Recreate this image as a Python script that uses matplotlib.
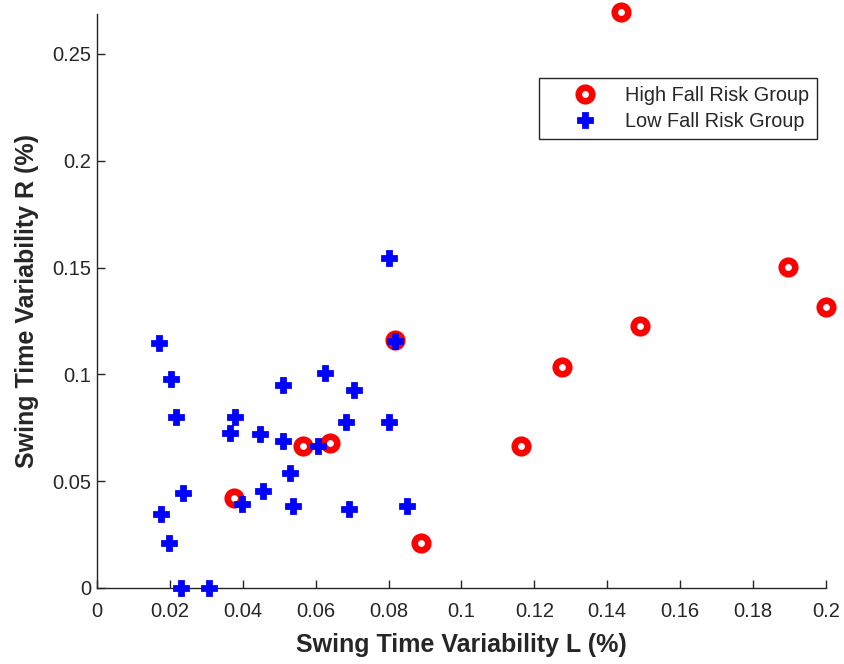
import matplotlib
matplotlib.use('Agg')
import matplotlib.pyplot as plt

# High fall risk group
high_x = [0.1438, 0.1896, 0.2000, 0.1490, 0.1276, 0.1163, 0.0818, 0.0566, 0.0639, 0.0377, 0.0889]
high_y = [0.2697, 0.1503, 0.1316, 0.1227, 0.1035, 0.0665, 0.1161, 0.0665, 0.0680, 0.0423, 0.0212]

# Low fall risk group
low_x = [0.0171, 0.0203, 0.0217, 0.0379, 0.0365, 0.0447, 0.0511, 0.0511, 0.0626, 0.0705,
         0.0682, 0.0801, 0.0818, 0.0605, 0.0530, 0.0235, 0.0456, 0.0399, 0.0539, 0.0691,
         0.0851, 0.0176, 0.0198, 0.0230, 0.0308, 0.0801]
low_y = [0.1146, 0.0978, 0.0799, 0.0799, 0.0727, 0.0721, 0.0949, 0.0690, 0.1005, 0.0927,
         0.0776, 0.0776, 0.1158, 0.0665, 0.0540, 0.0446, 0.0454, 0.0392, 0.0384, 0.0368,
         0.0384, 0.0345, 0.0212, 0.0000, 0.0000, 0.1545]

xticks = [0, 0.02, 0.04, 0.06, 0.08, 0.1, 0.12, 0.14, 0.16, 0.18, 0.2]
xtick_labels = ['0', '0.02', '0.04', '0.06', '0.08', '0.1', '0.12', '0.14', '0.16', '0.18', '0.2']
yticks = [0, 0.05, 0.1, 0.15, 0.2, 0.25]
ytick_labels = ['0', '0.05', '0.1', '0.15', '0.2', '0.25']

plt.rcParams['font.family'] = ['Liberation Sans', 'DejaVu Sans']
dark = '#262626'

fig = plt.figure(figsize=(8.45, 6.64), dpi=100)
ax = fig.add_axes([0.1148, 0.1145, 0.8627, 0.8644])

ax.plot(high_x, high_y, 'o', color='red', markerfacecolor='white',
        markeredgecolor='red', markersize=9.75, markeredgewidth=4.75,
        label='High Fall Risk Group', clip_on=False, zorder=3)
ax.plot(low_x, low_y, 'P', color='blue', markersize=10, markeredgewidth=2,
        markeredgecolor='blue', label='Low Fall Risk Group', clip_on=False, zorder=4)

ax.set_xlim(0, 0.2)
ax.set_ylim(0, 0.2687)
ax.set_xticks(xticks)
ax.set_xticklabels(xtick_labels)
ax.set_yticks(yticks)
ax.set_yticklabels(ytick_labels)

for side in ['top', 'right']:
    ax.spines[side].set_visible(False)
for side in ['left', 'bottom']:
    ax.spines[side].set_color(dark)
    ax.spines[side].set_linewidth(1.0)

ax.tick_params(direction='in', length=6, width=1, colors=dark, labelsize=14.5)
ax.tick_params(axis='x', pad=10)
ax.tick_params(axis='y', pad=4)

ax.set_xlabel('Swing Time Variability L (%)', fontsize=18, fontweight='bold', color=dark)
ax.set_ylabel('Swing Time Variability R (%)', fontsize=18, fontweight='bold', color=dark)
ax.xaxis.set_label_coords(0.5, -0.078)
ax.yaxis.set_label_coords(-0.08, 0.5)

leg = ax.legend(loc='upper right', bbox_to_anchor=(817 / 845, 1 - 78 / 664),
                bbox_transform=fig.transFigure, fontsize=14.3, fancybox=False,
                edgecolor=dark, framealpha=1, borderpad=0.4, labelspacing=0.35,
                handletextpad=0.09, borderaxespad=0, handlelength=3.85)
leg.get_frame().set_linewidth(1.0)
for t in leg.get_texts():
    t.set_color(dark)

fig.savefig('out.png', dpi=100)
